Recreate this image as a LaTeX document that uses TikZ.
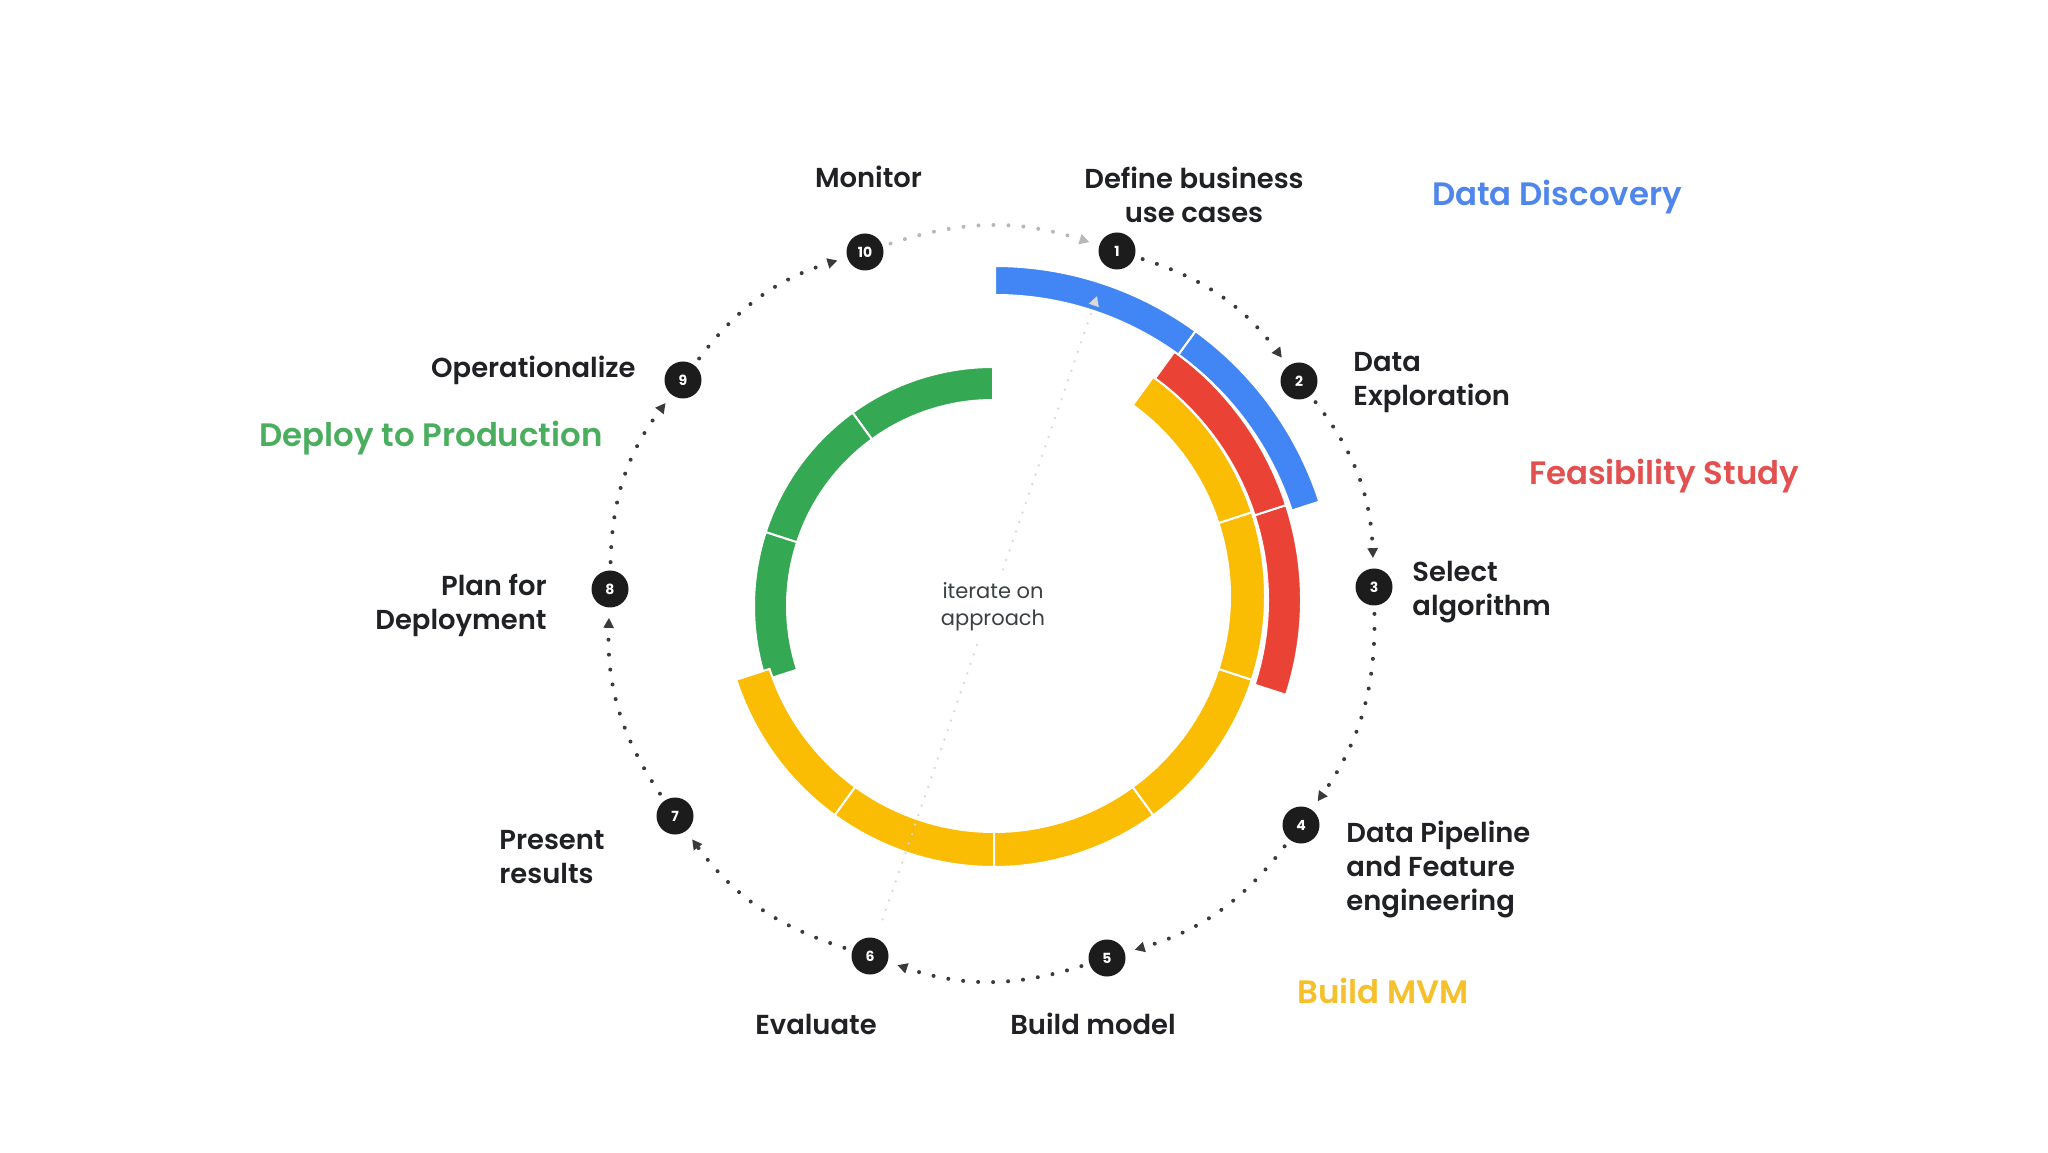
\documentclass[tikz,border=0pt]{standalone}
\usepackage{fontspec}
\setmainfont{Poppins}[UprightFont=* SemiBold, BoldFont=* Bold]
\newfontfamily\regfont{Poppins}
\usetikzlibrary{arrows.meta,calc}
\definecolor{ink}{HTML}{202124}
\definecolor{inksoft}{HTML}{3C4043}
\definecolor{nodeblack}{HTML}{1C1C1C}
\definecolor{dotgray}{HTML}{3A3A3A}
\definecolor{lightdot}{HTML}{B8B8B8}
\definecolor{gblue}{HTML}{4285F4}
\definecolor{gred}{HTML}{EA4335}
\definecolor{gyellow}{HTML}{FBBC04}
\definecolor{ggreen}{HTML}{34A853}
\definecolor{hblue}{HTML}{4F86EC}
\definecolor{hred}{HTML}{E35050}
\definecolor{hyellow}{HTML}{F5C02B}
\definecolor{hgreen}{HTML}{4AAE5E}
\newcommand\ringseg[6]{%
  \fill[#1, draw=white, line width=1pt, shift={(#2)}]
    (#3:#6) arc[start angle=#3, end angle=#4, radius=#6]
    -- (#4:#5) arc[start angle=#4, end angle=#3, radius=#5] -- cycle;}
\tikzset{
  stepnum/.style={circle, fill=nodeblack, text=white, minimum size=18.5pt,
    inner sep=0pt, font=\bfseries\fontsize{7}{7}\selectfont},
  lbl/.style={text=ink, font=\fontsize{13.7}{17}\selectfont, inner sep=0pt},
  phase/.style={font=\fontsize{16.2}{20}\selectfont, inner sep=0pt},
  flow/.style={draw=dotgray, line width=2pt, line cap=round,
    dash pattern=on 0pt off 7.5pt,
    -{Triangle[length=5pt,width=5pt]}, shorten <=4pt, shorten >=5pt},
  iterline/.style={draw=gray!30, line width=1.3pt, line cap=round,
    dash pattern=on 0pt off 5pt, -{Triangle[length=5pt,width=5pt]},
    shorten <=10pt},
}
\begin{document}
\begin{tikzpicture}[x=0.5pt,y=0.5pt]
\useasboundingbox (0,0) rectangle (2048,1152);
\fill[white] (0,0) rectangle (2048,1152);

% coloured rings
\ringseg{ggreen}{993,546}{90}{126}{206}{239}
\ringseg{ggreen}{993,546}{126}{162}{206}{239}
\ringseg{ggreen}{993,546}{162}{198}{206}{239}
\ringseg{gyellow}{994,556}{-162}{-126}{236}{271}
\ringseg{gyellow}{994,556}{-126}{-90}{236}{271}
\ringseg{gyellow}{994,556}{-90}{-54}{236}{271}
\ringseg{gyellow}{994,556}{-54}{-18}{236}{271}
\ringseg{gyellow}{994,556}{-18}{18}{236}{271}
\ringseg{gyellow}{994,556}{18}{54}{236}{271}
\ringseg{gred}{994,552}{-18}{18}{274}{307}
\ringseg{gred}{994,552}{18}{54}{274}{307}
\ringseg{gblue}{995,545}{18}{54}{312}{341}
\ringseg{gblue}{995,545}{54}{90}{312}{341}

% step nodes
\node[stepnum] (n1) at (1117,901) {1};
\node[stepnum] (n2) at (1299,771) {2};
\node[stepnum] (n3) at (1374,565) {3};
\node[stepnum] (n4) at (1301,327) {4};
\node[stepnum] (n5) at (1107,194) {5};
\node[stepnum] (n6) at (870,196) {6};
\node[stepnum] (n7) at (675,336) {7};
\node[stepnum] (n8) at (610,563) {8};
\node[stepnum] (n9) at (683,772) {9};
\node[stepnum] (n10) at (865,900) {10};

% iterate line
\coordinate (ittop) at (1097,856);
\draw[iterline] (n6) -- (ittop);
\node[fill=white, inner sep=3pt, align=center, text=inksoft,
  font=\regfont\fontsize{10.5}{13.3}\selectfont] (iter) at (993,545)
  {iterate on\\approach};

% dotted cycle
\draw[flow] (n1) to[bend left=18] (n2);
\draw[flow] (n2) to[bend left=18] (n3);
\draw[flow] (n3) to[bend left=18] (n4);
\draw[flow] (n4) to[bend left=18] (n5);
\draw[flow] (n5) to[bend left=18] (n6);
\draw[flow] (n6) to[bend left=18] (n7);
\draw[flow] (n7) to[bend left=18] (n8);
\draw[flow] (n8) to[bend left=18] (n9);
\draw[flow] (n9) to[bend left=18] (n10);
\draw[flow, draw=lightdot] (n10) to[bend left=18] (n1);

% step labels
\node[lbl] (l10) at (868.5,975) {Monitor};
\node[lbl, align=center] (l1) at (1194,957) {Define business\\use cases};
\node[lbl, align=left, anchor=west] (l2) at (1353,769) {Data\\Exploration};
\node[lbl, align=left, anchor=west] (l3) at (1412,560) {Select\\algorithm};
\node[lbl, align=left, anchor=west] (l4) at (1346,283) {Data Pipeline\\and Feature\\engineering};
\node[lbl] (l5) at (1093,128) {Build model};
\node[lbl] (l6) at (816,128) {Evaluate};
\node[lbl, align=left, anchor=west] (l7) at (499,295) {Present\\results};
\node[lbl, align=right, anchor=east] (l8) at (547,547) {Plan for\\Deployment};
\node[lbl, anchor=east] (l9) at (636,782) {Operationalize};

% phase labels
\node[phase, text=hblue] (pdisc) at (1557,955) {Data Discovery};
\node[phase, text=hred] (pfeas) at (1664,676) {Feasibility Study};
\node[phase, text=hgreen] (pdepl) at (431,714) {Deploy to Production};
\node[phase, text=hyellow] (pmvm) at (1383,161) {Build MVM};
\end{tikzpicture}
\end{document}
